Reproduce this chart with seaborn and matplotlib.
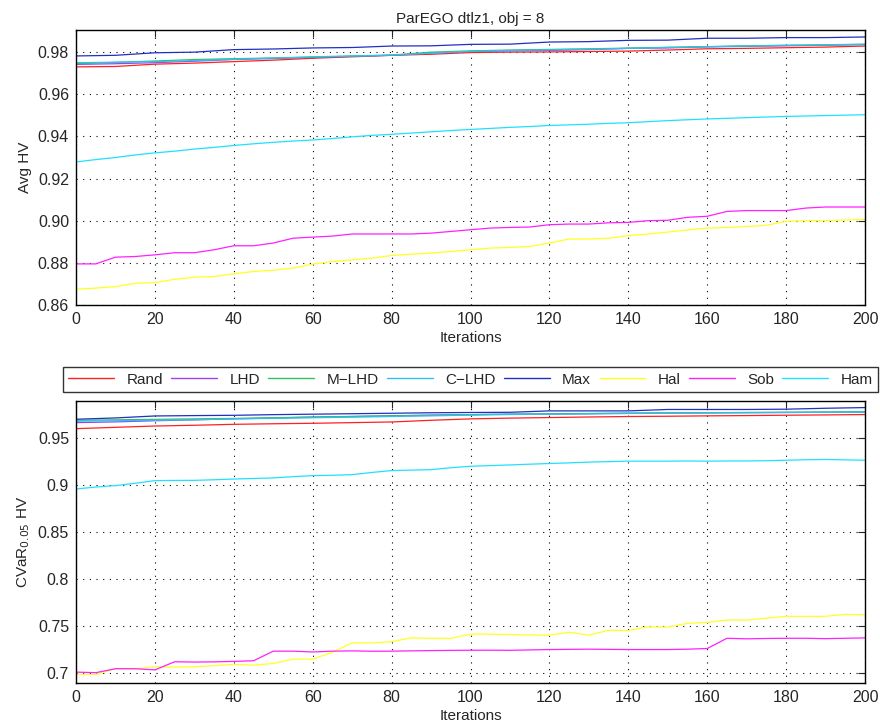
import numpy as np
import pandas as pd
import seaborn as sns
import matplotlib.pyplot as plt

sns.set_style("white")
plt.rcParams['font.family'] = ['Liberation Sans', 'DejaVu Sans']

methods = ["Rand", "LHD", "M-LHD", "C-LHD", "Max", "Hal", "Sob", "Ham"]
colors = ["#ff2020", "#a040f0", "#30c060", "#30c0f0", "#2030c0", "#ffff20", "#ff20ff", "#20e0ff"]

iters10 = list(range(0, 201, 10))
iters5 = list(range(0, 201, 5))

# ---- Avg HV (top) ----
avg_rand = [0.9730, 0.9732, 0.9743, 0.9748, 0.9755, 0.9762, 0.9771, 0.9778, 0.9785, 0.9790, 0.9798,
            0.9800, 0.9801, 0.9803, 0.9805, 0.9810, 0.9816, 0.9818, 0.9821, 0.9824, 0.9829]
avg_lhd = [0.9742, 0.9745, 0.9750, 0.9757, 0.9765, 0.9770, 0.9775, 0.9780, 0.9785, 0.9795, 0.9803,
           0.9806, 0.9808, 0.9812, 0.9818, 0.9820, 0.9825, 0.9828, 0.9830, 0.9833, 0.9836]
avg_mlhd = [0.9745, 0.9752, 0.9758, 0.9765, 0.9769, 0.9772, 0.9776, 0.9781, 0.9786, 0.9800, 0.9806,
            0.9810, 0.9813, 0.9816, 0.9819, 0.9823, 0.9826, 0.9829, 0.9832, 0.9834, 0.9837]
avg_clhd = [0.9750, 0.9752, 0.9755, 0.9760, 0.9766, 0.9772, 0.9778, 0.9782, 0.9786, 0.9795, 0.9804,
            0.9808, 0.9811, 0.9814, 0.9818, 0.9822, 0.9826, 0.9830, 0.9833, 0.9835, 0.9838]
avg_max = [0.9782, 0.9785, 0.9797, 0.9800, 0.9812, 0.9815, 0.9820, 0.9822, 0.9829, 0.9830, 0.9837,
           0.9838, 0.9848, 0.9850, 0.9856, 0.9857, 0.9866, 0.9866, 0.9869, 0.9869, 0.9872]
avg_hal = [0.8675, 0.8680, 0.8687, 0.8703, 0.8706, 0.8722, 0.8732, 0.8735, 0.8748, 0.8759, 0.8765,
           0.8775, 0.8794, 0.8806, 0.8814, 0.8822, 0.8835, 0.8841, 0.8846, 0.8854, 0.8862,
           0.8870, 0.8873, 0.8878, 0.8894, 0.8913, 0.8913, 0.8917, 0.8929, 0.8937, 0.8946,
           0.8956, 0.8965, 0.8968, 0.8973, 0.8978, 0.8997, 0.9000, 0.9000, 0.9003, 0.9006]
avg_sob = [0.8795, 0.8795, 0.8827, 0.8830, 0.8838, 0.8848, 0.8848, 0.8862, 0.8881, 0.8881, 0.8894,
           0.8917, 0.8922, 0.8927, 0.8937, 0.8937, 0.8937, 0.8937, 0.8941, 0.8949, 0.8957,
           0.8965, 0.8968, 0.8970, 0.8981, 0.8984, 0.8984, 0.8990, 0.8992, 0.9000, 0.9002,
           0.9016, 0.9021, 0.9044, 0.9048, 0.9048, 0.9048, 0.9060, 0.9065, 0.9065, 0.9065]
avg_ham = [0.9279, 0.9290, 0.9300, 0.9312, 0.9322, 0.9330, 0.9340, 0.9348, 0.9357, 0.9365, 0.9372,
           0.9378, 0.9383, 0.9390, 0.9398, 0.9405, 0.9410, 0.9416, 0.9422, 0.9428, 0.9433,
           0.9438, 0.9443, 0.9447, 0.9452, 0.9455, 0.9458, 0.9462, 0.9465, 0.9470, 0.9475,
           0.9479, 0.9483, 0.9486, 0.9489, 0.9492, 0.9495, 0.9497, 0.9499, 0.9501, 0.9503]

# ---- CVaR HV (bottom) ----
cv_rand = [0.9596, 0.9610, 0.9624, 0.9632, 0.9642, 0.9648, 0.9653, 0.9660, 0.9667, 0.9685, 0.9700,
           0.9708, 0.9714, 0.9720, 0.9725, 0.9728, 0.9732, 0.9735, 0.9739, 0.9742, 0.9746]
cv_lhd = [0.9660, 0.9668, 0.9680, 0.9690, 0.9700, 0.9710, 0.9718, 0.9725, 0.9733, 0.9740, 0.9745,
          0.9750, 0.9752, 0.9756, 0.9760, 0.9762, 0.9765, 0.9767, 0.9768, 0.9770, 0.9772]
cv_mlhd = [0.9685, 0.9690, 0.9695, 0.9700, 0.9705, 0.9712, 0.9720, 0.9726, 0.9732, 0.9738, 0.9745,
           0.9750, 0.9753, 0.9757, 0.9760, 0.9763, 0.9766, 0.9768, 0.9770, 0.9772, 0.9775]
cv_clhd = [0.9675, 0.9680, 0.9685, 0.9690, 0.9700, 0.9705, 0.9712, 0.9718, 0.9725, 0.9732, 0.9740,
           0.9746, 0.9750, 0.9753, 0.9757, 0.9760, 0.9763, 0.9765, 0.9768, 0.9770, 0.9772]
cv_max = [0.9696, 0.9710, 0.9731, 0.9735, 0.9738, 0.9745, 0.9750, 0.9755, 0.9760, 0.9765, 0.9768,
          0.9770, 0.9785, 0.9785, 0.9785, 0.9800, 0.9800, 0.9800, 0.9803, 0.9813, 0.9820]
cv_hal = [0.6982, 0.6982, 0.7042, 0.7040, 0.7063, 0.7060, 0.7063, 0.7075, 0.7088, 0.7080, 0.7098,
          0.7144, 0.7144, 0.7218, 0.7317, 0.7317, 0.7330, 0.7370, 0.7365, 0.7365, 0.7410,
          0.7410, 0.7405, 0.7402, 0.7398, 0.7430, 0.7400, 0.7450, 0.7448, 0.7488, 0.7485,
          0.7525, 0.7535, 0.7560, 0.7560, 0.7580, 0.7599, 0.7599, 0.7600, 0.7620, 0.7616]
cv_sob = [0.7006, 0.7000, 0.7042, 0.7042, 0.7030, 0.7116, 0.7113, 0.7115, 0.7120, 0.7127, 0.7229,
          0.7229, 0.7220, 0.7229, 0.7232, 0.7228, 0.7229, 0.7232, 0.7235, 0.7237, 0.7239,
          0.7239, 0.7238, 0.7242, 0.7246, 0.7248, 0.7250, 0.7248, 0.7246, 0.7246, 0.7246,
          0.7250, 0.7257, 0.7366, 0.7360, 0.7364, 0.7366, 0.7366, 0.7362, 0.7366, 0.7370]
cv_ham = [0.8954, 0.8975, 0.8990, 0.9015, 0.9043, 0.9045, 0.9046, 0.9052, 0.9060, 0.9066, 0.9072,
          0.9085, 0.9096, 0.9100, 0.9107, 0.9130, 0.9150, 0.9155, 0.9160, 0.9180, 0.9196,
          0.9203, 0.9210, 0.9218, 0.9225, 0.9232, 0.9240, 0.9245, 0.9250, 0.9250, 0.9250,
          0.9252, 0.9250, 0.9252, 0.9252, 0.9255, 0.9260, 0.9265, 0.9268, 0.9264, 0.9260]


def long_form(series):
    parts = []
    for name, xs, ys in series:
        parts.append(pd.DataFrame({"Iterations": xs, "HV": ys, "method": name}))
    return pd.concat(parts, ignore_index=True)


top = long_form([("Rand", iters10, avg_rand), ("LHD", iters10, avg_lhd), ("M-LHD", iters10, avg_mlhd),
                 ("C-LHD", iters10, avg_clhd), ("Max", iters10, avg_max), ("Hal", iters5, avg_hal),
                 ("Sob", iters5, avg_sob), ("Ham", iters5, avg_ham)])
bottom = long_form([("Rand", iters10, cv_rand), ("LHD", iters10, cv_lhd), ("M-LHD", iters10, cv_mlhd),
                    ("C-LHD", iters10, cv_clhd), ("Max", iters10, cv_max), ("Hal", iters5, cv_hal),
                    ("Sob", iters5, cv_sob), ("Ham", iters5, cv_ham)])

fig = plt.figure(figsize=(8.8, 7.27), dpi=100)
ax1 = fig.add_axes([0.0864, 0.5805, 0.8966, 0.3782])
ax2 = fig.add_axes([0.0864, 0.0605, 0.8966, 0.3879])

pal = dict(zip(methods, colors))
for ax, df in [(ax1, top), (ax2, bottom)]:
    sns.lineplot(data=df, x="Iterations", y="HV", hue="method", hue_order=methods,
                 palette=pal, linewidth=0.9, ax=ax, legend=(ax is ax1))
    ax.set_xlim(0, 200)
    ax.set_xticks(range(0, 201, 20))
    ax.grid(True, color="black", linestyle=(0, (1, 5)), linewidth=0.8)
    ax.tick_params(direction="in", top=True, right=True, labelsize=11.5, length=5, pad=5)
    for s in ax.spines.values():
        s.set_color("black")
        s.set_linewidth(1.0)
    ax.set_xlabel("Iterations", fontsize=11, labelpad=3)

ax1.set_ylim(0.86, 0.9905)
ax1.set_yticks(np.arange(0.86, 0.981, 0.02))
ax1.set_yticklabels([f"{v:.2f}" for v in np.arange(0.86, 0.981, 0.02)])
ax1.set_ylabel("Avg HV", fontsize=11)
ax1.set_title("ParEGO dtlz1, obj = 8", fontsize=11, pad=5)

ax2.set_ylim(0.689, 0.989)
ax2.set_yticks([0.7, 0.75, 0.8, 0.85, 0.9, 0.95])
ax2.set_yticklabels(["0.7", "0.75", "0.8", "0.85", "0.9", "0.95"])
ax2.set_ylabel("CVaR$_{0.05}$ HV", fontsize=11)

handles, labels = ax1.get_legend_handles_labels()
ax1.get_legend().remove()
labels = [l.replace("-", "\u2212") for l in labels]
leg = fig.legend(handles, labels, loc="lower left", bbox_to_anchor=(0.0716, 0.4608, 0.926, 0.04),
                 mode="expand", ncol=8, fontsize=11, frameon=True, fancybox=False,
                 edgecolor="black", handlelength=3.0, handletextpad=0.8, borderaxespad=0,
                 borderpad=0.35)
leg.get_frame().set_linewidth(1.0)
for h in leg.get_lines():
    h.set_linewidth(1.0)

fig.savefig("out.png", dpi=100)
